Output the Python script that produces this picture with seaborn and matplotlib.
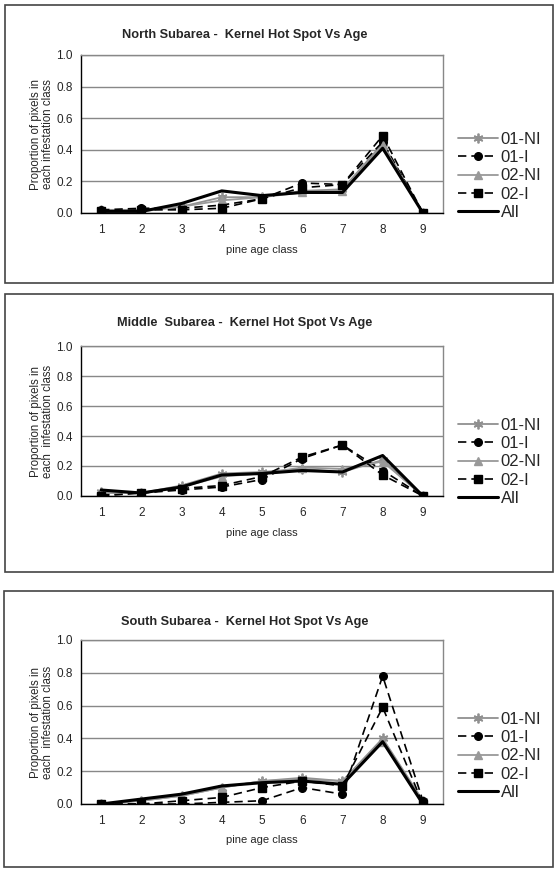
import matplotlib
matplotlib.use("Agg")
import matplotlib.pyplot as plt
import seaborn as sns
import pandas as pd
from matplotlib.patches import Rectangle

age_classes = [1, 2, 3, 4, 5, 6, 7, 8, 9]
series_names = ["01-NI", "01-I", "02-NI", "02-I", "All"]

north_01NI = [0.02, 0.02, 0.04, 0.10, 0.10, 0.14, 0.15, 0.44, 0.00]
north_01I = [0.02, 0.03, 0.03, 0.05, 0.09, 0.19, 0.18, 0.45, 0.00]
north_02NI = [0.01, 0.01, 0.04, 0.08, 0.10, 0.13, 0.14, 0.43, 0.00]
north_02I = [0.01, 0.02, 0.02, 0.03, 0.09, 0.16, 0.18, 0.49, 0.00]
north_All = [0.01, 0.01, 0.06, 0.14, 0.11, 0.13, 0.13, 0.41, 0.00]

middle_01NI = [0.03, 0.02, 0.07, 0.15, 0.16, 0.18, 0.16, 0.24, 0.00]
middle_01I = [0.01, 0.02, 0.04, 0.06, 0.11, 0.25, 0.34, 0.17, 0.00]
middle_02NI = [0.02, 0.02, 0.06, 0.13, 0.15, 0.19, 0.18, 0.23, 0.00]
middle_02I = [0.00, 0.02, 0.05, 0.07, 0.13, 0.26, 0.34, 0.14, 0.00]
middle_All = [0.04, 0.02, 0.06, 0.14, 0.15, 0.17, 0.16, 0.27, 0.00]

south_01NI = [0.00, 0.02, 0.05, 0.10, 0.14, 0.16, 0.14, 0.40, 0.02]
south_01I = [0.00, 0.00, 0.00, 0.01, 0.02, 0.10, 0.06, 0.78, 0.02]
south_02NI = [0.00, 0.02, 0.05, 0.10, 0.14, 0.15, 0.14, 0.38, 0.00]
south_02I = [0.00, 0.00, 0.02, 0.04, 0.10, 0.14, 0.11, 0.59, 0.00]
south_All = [0.00, 0.03, 0.06, 0.11, 0.13, 0.14, 0.12, 0.38, 0.00]

titles = ["North Subarea -  Kernel Hot Spot Vs Age",
          "Middle  Subarea -  Kernel Hot Spot Vs Age",
          "South Subarea -  Kernel Hot Spot Vs Age"]
ylabels = ["Proportion of pixels in\neach infestation class",
           "Proportion of pixels in\neach  infestation class",
           "Proportion of pixels in\neach  infestation class"]
xlabel = "pine age class"
y_ticks = [0.0, 0.2, 0.4, 0.6, 0.8, 1.0]

panels = [
    [north_01NI, north_01I, north_02NI, north_02I, north_All],
    [middle_01NI, middle_01I, middle_02NI, middle_02I, middle_All],
    [south_01NI, south_01I, south_02NI, south_02I, south_All],
]

styles = {
    "01-NI": dict(color="#909090", ls="-", marker=(6, 2, 0), ms=7, lw=1.3, mew=1.3),
    "01-I": dict(color="black", ls=(0, (5, 3)), marker="o", ms=5.5, lw=1.2, mew=1),
    "02-NI": dict(color="#999999", ls="-", marker="^", ms=6, lw=1.3, mew=1),
    "02-I": dict(color="black", ls=(0, (5, 3)), marker="s", ms=5.5, lw=1.2, mew=1),
    "All": dict(color="black", ls="-", marker=None, ms=0, lw=2.2, mew=0),
}

sns.set_theme(style="white")
plt.rcParams["font.family"] = ["Liberation Sans", "DejaVu Sans"]

W, H = 558, 882
fig = plt.figure(figsize=(W / 100, H / 100), dpi=100)

def fx(px):
    return px / W

def fy(py):
    return 1 - py / H

boxes = [(5, 5, 553, 283), (5, 294, 553, 572), (4, 591, 553, 867)]
axes_px = [(81, 55, 443, 213), (81, 346, 443, 496), (81, 640, 443, 804)]
title_y = [35, 323, 622]
xlabel_y = [250, 533, 840]
legend_y = [176, 462, 756]

for b in boxes:
    x0, y0, x1, y1 = b
    fig.patches.append(Rectangle((fx(x0), fy(y1)), fx(x1 - x0), (y1 - y0) / H,
                                 transform=fig.transFigure, fill=False,
                                 edgecolor="#444444", lw=1.2, zorder=0))

for i, data in enumerate(panels):
    x0, y0, x1, y1 = axes_px[i]
    ax = fig.add_axes([fx(x0), fy(y1), fx(x1 - x0), (y1 - y0) / H])
    for name, vals in zip(series_names, data):
        st = styles[name]
        df = pd.DataFrame({"age": age_classes, "val": vals})
        sns.lineplot(data=df, x="age", y="val", ax=ax, color=st["color"],
                     linestyle=st["ls"], marker=st["marker"], markersize=st["ms"],
                     linewidth=st["lw"], markeredgewidth=st["mew"],
                     markeredgecolor=st["color"], label=name, zorder=3)
    ax.set_xlim(0.5, 9.5)
    ax.set_ylim(0, 1.0)
    ax.set_yticks(y_ticks)
    ax.set_yticklabels([f"{t:.1f}" for t in y_ticks], fontsize=8.5)
    ax.set_xticks(age_classes)
    ax.set_xticklabels([str(a) for a in age_classes], fontsize=8.5)
    ax.set_xticks([a + 0.5 for a in range(0, 10)], minor=True)
    ax.tick_params(axis="x", which="major", length=0, pad=8)
    ax.tick_params(axis="x", which="minor", length=4, width=0.8, color="black", direction="out")
    ax.tick_params(axis="y", which="major", length=4, width=0.8, color="black", direction="out", pad=2)
    ax.yaxis.grid(True, color="#888888", lw=1)
    ax.xaxis.grid(False)
    ax.set_axisbelow(True)
    for s in ["top", "right"]:
        ax.spines[s].set_color("#888888")
        ax.spines[s].set_linewidth(1)
    for s in ["left", "bottom"]:
        ax.spines[s].set_color("black")
        ax.spines[s].set_linewidth(1)
    ax.set_xlabel("")
    ax.set_ylabel("")
    ax.legend_.remove()
    handles, labels = ax.get_legend_handles_labels()
    fig.legend(handles, labels, loc="center left",
               bbox_to_anchor=(fx(450), fy(legend_y[i])), frameon=False,
               fontsize=12, handlelength=2.35, handletextpad=0.2,
               labelspacing=0.2, borderpad=0)
    fig.text(fx(245), fy(title_y[i]), titles[i], ha="center", va="center",
             fontsize=9.2, fontweight="bold")
    fig.text(fx(262), fy(xlabel_y[i]), xlabel, ha="center", va="center", fontsize=8)
    fig.text(fx(42), fy((y0 + y1) / 2), ylabels[i], ha="center", va="center",
             fontsize=8.3, rotation=90, linespacing=1.0)

fig.savefig("out.png", dpi=100)
